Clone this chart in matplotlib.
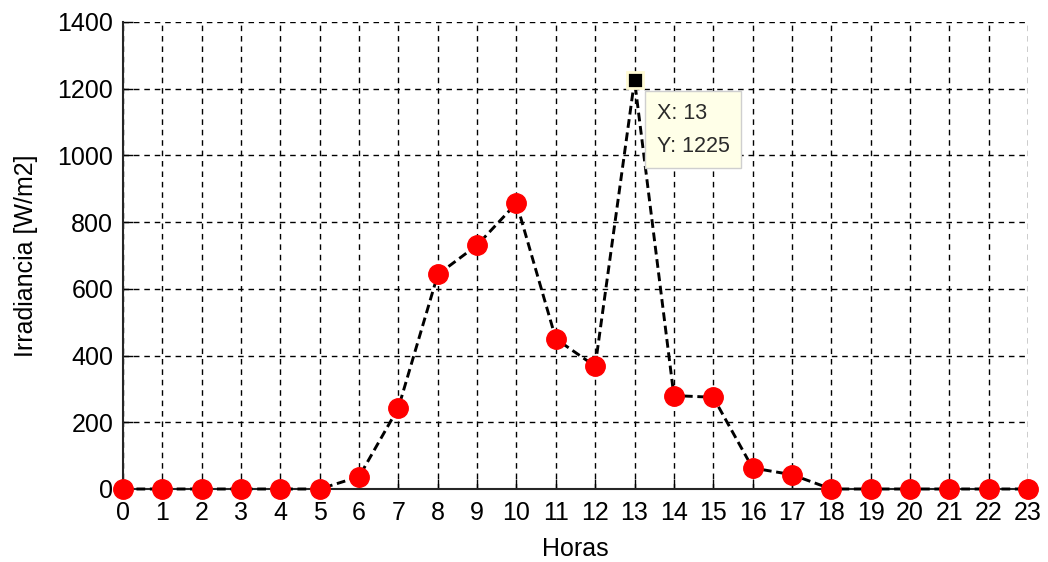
import matplotlib
matplotlib.use("Agg")
import matplotlib.pyplot as plt

plt.rcParams['font.family'] = ['Liberation Sans', 'DejaVu Sans']

horas = list(range(24))
irradiancia = [0, 0, 0, 0, 0, 0, 37, 244, 643, 731, 857, 450, 368, 1225,
               280, 275, 63, 43, 0, 0, 0, 0, 0, 0]
y_ticks = [0, 200, 400, 600, 800, 1000, 1200, 1400]
tip_x = 13
tip_y = 1225

fig = plt.figure(figsize=(10.48, 5.62), dpi=100)
ax = fig.add_axes([0.1174, 0.1299, 0.8635, 0.8310])

# the selected point is shown by the data tip marker instead of a red dot
tip_index = horas.index(tip_x)
dot_idx = [i for i in range(len(horas)) if i != tip_index]

ax.plot(horas, irradiancia, linestyle='--', dashes=(3, 1.6), color='black',
        linewidth=2.1, marker='o', markersize=14, markerfacecolor='red',
        markeredgecolor='red', markevery=dot_idx, clip_on=False, zorder=3)

# data tip on the peak
ax.plot([tip_x], [tip_y], marker='s', markersize=12, color='black',
        markeredgecolor='#fffbd5', markeredgewidth=2, linestyle='none',
        clip_on=False, zorder=5)
ax.annotate(f"X: {tip_x}\nY: {tip_y}", xy=(tip_x, tip_y), xytext=(16, -16),
            textcoords='offset points', ha='left', va='top', fontsize=15.5,
            color='#2a2a2a', linespacing=1.75,
            bbox=dict(boxstyle='square,pad=0.55', facecolor='#ffffe8',
                      edgecolor='#cfcfcf', linewidth=1), zorder=6)

ax.set_xlim(0, 23)
ax.set_ylim(0, 1400)
ax.set_xticks(horas)
ax.set_yticks(y_ticks)
ax.tick_params(direction='in', length=7, width=1, labelsize=18,
               colors='black')
ax.tick_params(axis='x', pad=9)
ax.tick_params(axis='y', pad=7)
ax.grid(True, color='black', linestyle=(0, (4, 3.5)), linewidth=1.0)
ax.set_axisbelow(True)

for side in ('top', 'right'):
    ax.spines[side].set_visible(False)
for side in ('left', 'bottom'):
    ax.spines[side].set_linewidth(1.5)
    ax.spines[side].set_color('#262626')

ax.set_xlabel('Horas', fontsize=18, labelpad=8)
ax.set_ylabel('Irradiancia [W/m2]', fontsize=18, labelpad=14)

fig.savefig('out.png', dpi=100)
